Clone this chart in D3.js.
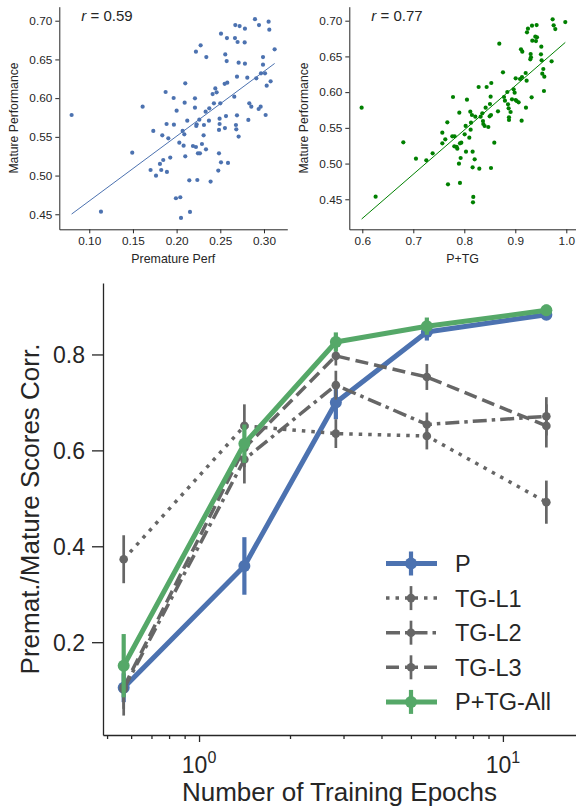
<!DOCTYPE html>
<html>
<head>
<meta charset="utf-8">
<script src="https://cdn.jsdelivr.net/npm/d3@7"></script>
<style>
  body { margin: 0; background: #fff; }
  svg { display: block; font-family: "Liberation Sans", Arial, sans-serif; }
</style>
</head>
<body>
<div class="chart"></div>
<script>
// ---- data ----
// mature performance vs premature performance (left scatter)
const premX = [0.2897,0.2672,0.2721,0.2943,0.3053,0.2782,0.3061,0.2508,0.2576,0.2668,0.2698,0.2779,0.2275,0.2221,0.2340,0.2557,0.3122,0.2989,0.2573,0.2710,0.2782,0.2989,0.2691,0.2580,0.2550,0.2809,0.2912,0.2966,0.3012,0.3076,0.3031,0.2099,0.2443,0.2458,0.2412,0.1874,0.2210,0.1966,0.1611,0.2092,0.2210,0.2427,0.2500,0.2660,0.2832,0.2855,0.2962,0.2939,0.2374,0.2332,0.2000,0.0798,0.3019,0.2821,0.2691,0.2565,0.2492,0.2370,0.2260,0.2122,0.2229,0.2313,0.1885,0.1969,0.2492,0.2679,0.2225,0.2683,0.2553,0.2485,0.2069,0.1733,0.2088,0.2309,0.1836,0.2710,0.1905,0.2031,0.2080,0.2187,0.2290,0.2221,0.2336,0.2244,0.2267,0.2485,0.1492,0.2099,0.1927,0.1847,0.1809,0.2508,0.2588,0.1702,0.1824,0.1889,0.2477,0.1764,0.2145,0.2237,0.2389,0.1992,0.2042,0.2153,0.2050,0.1134];
const premY = [0.702,0.6944,0.6931,0.6944,0.6987,0.6897,0.6884,0.6832,0.6776,0.6776,0.6725,0.6720,0.6682,0.6600,0.6531,0.6565,0.6630,0.6531,0.6479,0.6458,0.6445,0.6432,0.6277,0.6200,0.6185,0.6264,0.6256,0.632,0.632,0.6217,0.6161,0.6191,0.6126,0.6075,0.6053,0.6079,0.5997,0.6002,0.5890,0.5941,0.5877,0.5933,0.5933,0.6019,0.5933,0.5890,0.5890,0.5860,0.5868,0.5825,0.5838,0.5782,0.5782,0.5718,0.5778,0.5769,0.5735,0.5709,0.5722,0.5709,0.5662,0.5653,0.5666,0.5657,0.5666,0.5653,0.5640,0.5597,0.5614,0.5589,0.5576,0.5576,0.5533,0.5520,0.5520,0.5503,0.5481,0.5425,0.5386,0.5382,0.5408,0.5369,0.5339,0.5287,0.5287,0.5287,0.5296,0.5249,0.5232,0.5201,0.5150,0.5171,0.5163,0.5072,0.5072,0.5047,0.5064,0.4999,0.4939,0.4943,0.4922,0.4707,0.4720,0.4530,0.4453,0.4534];
const premR = "0.59";

// mature performance vs P+TG (right scatter)
const ptgX = [0.5987,0.6261,0.6804,0.7052,0.7255,0.7379,0.7569,0.7569,0.7627,0.7667,0.7680,0.7778,0.7765,0.7810,0.7804,0.7863,0.7850,0.7915,0.7941,0.7902,0.7895,0.7928,0.7915,0.8052,0.8026,0.8007,0.8033,0.8098,0.8118,0.8124,0.8131,0.8150,0.8163,0.8203,0.8163,0.8176,0.8170,0.8216,0.8281,0.8294,0.8320,0.8353,0.8366,0.8373,0.8399,0.8418,0.8438,0.8471,0.8503,0.8516,0.8497,0.8523,0.8529,0.8523,0.8588,0.8660,0.8686,0.8758,0.8778,0.8797,0.8843,0.8856,0.8869,0.8876,0.8876,0.8908,0.8935,0.8967,0.8987,0.9007,0.9007,0.9026,0.9065,0.9092,0.9131,0.9124,0.9111,0.9137,0.9209,0.9203,0.9222,0.9229,0.9248,0.9301,0.9307,0.9294,0.9327,0.9320,0.9333,0.9392,0.9405,0.9418,0.9425,0.9510,0.9503,0.9516,0.9529,0.9549,0.9569,0.9562,0.9712,0.9732,0.9752,0.9784,0.9980];
const ptgY = [0.5783,0.4537,0.5298,0.5069,0.5046,0.5144,0.5433,0.5284,0.5340,0.5577,0.4710,0.5932,0.5382,0.5382,0.5242,0.5209,0.5233,0.5284,0.5293,0.5713,0.4999,0.5078,0.4729,0.5895,0.5527,0.5410,0.5167,0.5363,0.5727,0.5475,0.5573,0.5680,0.5167,0.5060,0.4948,0.4533,0.4458,0.5657,0.6072,0.4929,0.5657,0.5703,0.5596,0.5554,0.5526,0.5783,0.6072,0.5512,0.5834,0.5937,0.5661,0.5680,0.6128,0.4938,0.5293,0.5731,0.6678,0.6277,0.5932,0.5881,0.6002,0.5829,0.5773,0.5647,0.5610,0.5722,0.5899,0.6039,0.5993,0.6193,0.5890,0.5876,0.5857,0.6184,0.6212,0.5601,0.6599,0.6566,0.5783,0.6268,0.6160,0.6837,0.6888,0.6534,0.6487,0.6459,0.6930,0.5927,0.6720,0.6776,0.6715,0.6939,0.6767,0.6636,0.6529,0.6445,0.6258,0.6324,0.6216,0.6016,0.6431,0.7019,0.6935,0.6883,0.6981];
const ptgR = "0.77";

// correlation vs training epochs (bottom)
const epochs = [0.565, 1.41, 2.82, 5.62, 13.9];
const seriesNames = ["P", "TG-L1", "TG-L2", "TG-L3", "P+TG-All"];
const corrP    = [0.105, 0.359, 0.700, 0.847, 0.883];
const corrL1   = [0.373, 0.651, 0.635, 0.630, 0.492];
const corrL2   = [0.102, 0.581, 0.736, 0.654, 0.671];
const corrL3   = [0.106, 0.605, 0.797, 0.753, 0.651];
const corrAll  = [0.151, 0.614, 0.826, 0.859, 0.892];
const errP     = [0.03, 0.06, 0.035, 0.018, 0.01];
const errL1    = [0.05, 0.045, 0.03, 0.028, 0.045];
const errL2    = [0.055, 0.05, 0.03, 0.025, 0.04];
const errL3    = [0.045, 0.04, 0.02, 0.027, 0.045];
const errAll   = [0.066, 0.04, 0.02, 0.018, 0.012];
const yTicks = [0.2, 0.4, 0.6, 0.8];

const w = 576, h = 806;
const svg = d3.select(".chart").append("svg").attr("width", w).attr("height", h);
const ink = "#262626";

// ---------- scatter panels ----------
function scatter(xs, ys, rText, opt) {
  const x = d3.scaleLinear().domain(opt.xd).range([opt.left, opt.right]);
  const y = d3.scaleLinear().domain(opt.yd).range([opt.bottom, opt.top]);
  const g = svg.append("g");

  const xAxis = d3.axisBottom(x).tickValues(opt.xt).tickFormat(opt.xf).tickSize(4).tickSizeOuter(0);
  const yAxis = d3.axisLeft(y).tickValues(opt.yt).tickFormat(d3.format(".2f")).tickSize(4).tickSizeOuter(0);
  g.append("g").attr("transform", "translate(0," + opt.bottom + ")").call(xAxis);
  g.append("g").attr("transform", "translate(" + opt.left + ",0)").call(yAxis);
  g.selectAll(".domain, .tick line").attr("stroke", ink).attr("stroke-width", 1);
  g.selectAll(".tick text").attr("fill", ink).style("font-size", "11.8px")
    .style("font-family", "Liberation Sans, Arial, sans-serif");

  // least squares fit over the data range
  const n = xs.length;
  const mx = d3.mean(xs), my = d3.mean(ys);
  let sxy = 0, sxx = 0;
  for (let i = 0; i < n; i++) { sxy += (xs[i]-mx)*(ys[i]-my); sxx += (xs[i]-mx)*(xs[i]-mx); }
  const b = sxy / sxx, a = my - b*mx;
  const x0 = d3.min(xs), x1 = d3.max(xs);
  g.append("line")
    .attr("x1", x(x0)).attr("y1", y(a + b*x0))
    .attr("x2", x(x1)).attr("y2", y(a + b*x1))
    .attr("stroke", opt.color).attr("stroke-width", 1);

  g.selectAll("circle").data(xs).enter().append("circle")
    .attr("cx", d => x(d)).attr("cy", (d, i) => y(ys[i]))
    .attr("r", 2.1).attr("fill", opt.color);

  const t = g.append("text").attr("x", opt.left + 22).attr("y", 21)
    .attr("fill", ink).style("font-size", "15px");
  t.append("tspan").style("font-style", "italic").text("r");
  t.append("tspan").text(" = " + rText);

  g.append("text").attr("x", (opt.left + opt.right)/2).attr("y", 263)
    .attr("text-anchor", "middle").attr("fill", ink).style("font-size", "12.4px").text(opt.xl);
  g.append("text").attr("transform", "translate(" + (opt.left - 41) + "," + ((opt.top + opt.bottom)/2) + ") rotate(-90)")
    .attr("text-anchor", "middle").attr("fill", ink).style("font-size", "12.2px").text("Mature Performance");
}

scatter(premX, premY, premR, {
  xd: [0.0657, 0.3267], yd: [0.4306, 0.7181],
  left: 59.3, right: 287.3, top: 6.7, bottom: 229.3,
  xt: [0.10, 0.15, 0.20, 0.25, 0.30], xf: d3.format(".2f"),
  yt: [0.45, 0.50, 0.55, 0.60, 0.65, 0.70],
  color: "#4C72B0", xl: "Premature Perf"
});
scatter(ptgX, ptgY, ptgR, {
  xd: [0.5745, 1.019], yd: [0.408, 0.7196],
  left: 349.3, right: 576, top: 6.7, bottom: 229.3,
  xt: [0.6, 0.7, 0.8, 0.9, 1.0], xf: d3.format(".1f"),
  yt: [0.45, 0.50, 0.55, 0.60, 0.65, 0.70],
  color: "#008000", xl: "P+TG"
});

// ---------- bottom line chart ----------
const mLeft = 103, mRight = 576, mTop = 283, mBottom = 735;
const xScale = d3.scaleLog().domain([0.483, 17.4]).range([mLeft, mRight]);
const yScale = d3.scaleLinear().domain([0.0065, 0.949]).range([mBottom, mTop]);

const main = svg.append("g");
main.append("g").attr("transform", "translate(" + mLeft + ",0)")
  .call(d3.axisLeft(yScale).tickValues(yTicks).tickFormat(d3.format(".1f")).tickSize(11).tickSizeOuter(0))
  .call(g => g.selectAll(".tick text").style("font-size", "23px").attr("x", -18).attr("dy", "0.36em"));

const minor = [0.5, 0.6, 0.7, 0.8, 0.9, 2, 3, 4, 5, 6, 7, 8, 9];
const xg = main.append("g").attr("transform", "translate(0," + mBottom + ")");
xg.call(d3.axisBottom(xScale).tickValues([1, 10]).tickFormat(() => "").tickSize(7).tickSizeOuter(0));
xg.selectAll(".minor").data(minor).enter().append("line").attr("class", "minor")
  .attr("x1", d => xScale(d)).attr("x2", d => xScale(d)).attr("y1", 0).attr("y2", 4);
xg.selectAll(".lbl").data([0, 1]).enter().append("text").attr("class", "lbl")
  .attr("x", d => xScale(Math.pow(10, d))).attr("y", 38)
  .attr("text-anchor", "middle").attr("fill", ink).style("font-size", "23px")
  .each(function(d) {
    const t = d3.select(this);
    t.append("tspan").text("10");
    t.append("tspan").attr("dy", -10).style("font-size", "16px").text(d);
  });
main.selectAll(".domain, .tick line, .minor").attr("stroke", ink).attr("stroke-width", 1.3);
main.selectAll(".tick text").attr("fill", ink).style("font-family", "Liberation Sans, Arial, sans-serif");

main.append("text").attr("x", (mLeft + mRight)/2).attr("y", 801)
  .attr("text-anchor", "middle").attr("fill", ink).style("font-size", "26px").text("Number of Training Epochs");
main.append("text").attr("transform", "translate(39," + ((mTop + mBottom)/2) + ") rotate(-90)")
  .attr("text-anchor", "middle").attr("fill", ink).style("font-size", "26px").text("Premat./Mature Scores Corr.");

const gray = "#666666";
const series = [
  { name: seriesNames[0], v: corrP,   e: errP,   color: "#4C72B0", lw: 5,   r: 6,   dash: null },
  { name: seriesNames[1], v: corrL1,  e: errL1,  color: gray,      lw: 3.5, r: 4.3, dash: "3.5,6" },
  { name: seriesNames[2], v: corrL2,  e: errL2,  color: gray,      lw: 3.5, r: 4.3, dash: "14,5,3.5,5" },
  { name: seriesNames[3], v: corrL3,  e: errL3,  color: gray,      lw: 3.5, r: 4.3, dash: "13,6" },
  { name: seriesNames[4], v: corrAll, e: errAll, color: "#55A868", lw: 5,   r: 6,   dash: null }
];

const line = d3.line().x(d => xScale(d[0])).y(d => yScale(d[1]));
series.forEach(s => {
  const pts = epochs.map((ep, i) => [ep, s.v[i], s.e[i]]);
  const sg = main.append("g");
  sg.append("path").attr("d", line(pts)).attr("fill", "none")
    .attr("stroke", s.color).attr("stroke-width", s.lw)
    .attr("stroke-dasharray", s.dash).attr("stroke-linejoin", "round");
  sg.selectAll(".err").data(pts).enter().append("line").attr("class", "err")
    .attr("x1", d => xScale(d[0])).attr("x2", d => xScale(d[0]))
    .attr("y1", d => yScale(d[1] - d[2])).attr("y2", d => yScale(d[1] + d[2]))
    .attr("stroke", s.color).attr("stroke-width", s.lw - 0.8);
  sg.selectAll("circle").data(pts).enter().append("circle")
    .attr("cx", d => xScale(d[0])).attr("cy", d => yScale(d[1]))
    .attr("r", s.r).attr("fill", s.color);
});

// legend
const legend = main.append("g").attr("transform", "translate(386,563.5)");
const rows = legend.selectAll("g").data(series).enter().append("g")
  .attr("transform", (d, i) => "translate(0," + (i*34.6) + ")");
rows.append("line").attr("x1", 0).attr("x2", 51).attr("y1", 0).attr("y2", 0)
  .attr("stroke", d => d.color).attr("stroke-width", d => d.lw).attr("stroke-dasharray", d => d.dash);
rows.append("line").attr("x1", 25).attr("x2", 25).attr("y1", -12).attr("y2", 12)
  .attr("stroke", d => d.color).attr("stroke-width", d => d.lw - 0.8);
rows.append("circle").attr("cx", 25).attr("cy", 0).attr("r", d => d.r).attr("fill", d => d.color);
rows.append("text").attr("x", 69).attr("y", 8.5).attr("fill", ink).style("font-size", "23.5px").text(d => d.name);
</script>
</body>
</html>
